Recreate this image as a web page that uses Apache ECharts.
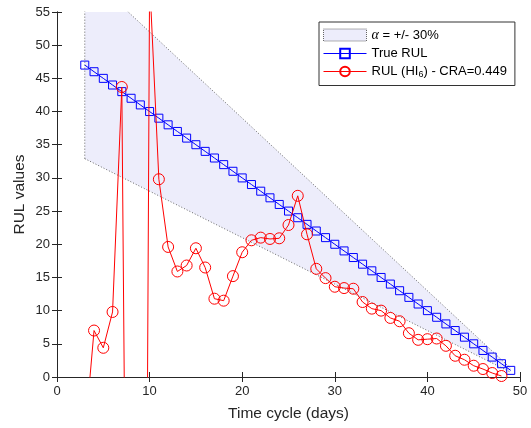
<!DOCTYPE html>
<html><head><meta charset="utf-8">
<script src="https://cdn.jsdelivr.net/npm/echarts@6/dist/echarts.min.js"></script>
<style>html,body{margin:0;padding:0;background:#fff}#c{width:531px;height:428px}</style>
</head><body><div id="c"></div>
<script>
// Time cycles (days) for the true RUL and the +/-30% bounds
const days = [3,4,5,6,7,8,9,10,11,12,13,14,15,16,17,18,19,20,21,22,23,24,25,26,27,28,29,30,31,32,33,34,35,36,37,38,39,40,41,42,43,44,45,46,47,48,49];
const trueRUL = [47,46,45,44,43,42,41,40,39,38,37,36,35,34,33,32,31,30,29,28,27,26,25,24,23,22,21,20,19,18,17,16,15,14,13,12,11,10,9,8,7,6,5,4,3,2,1];
const upperBound = [61.1,59.8,58.5,57.2,55.9,54.6,53.3,52,50.7,49.4,48.1,46.8,45.5,44.2,42.9,41.6,40.3,39,37.7,36.4,35.1,33.8,32.5,31.2,29.9,28.6,27.3,26,24.7,23.4,22.1,20.8,19.5,18.2,16.9,15.6,14.3,13,11.7,10.4,9.1,7.8,6.5,5.2,3.9,2.6,1.3];
const lowerBound = [32.9,32.2,31.5,30.8,30.1,29.4,28.7,28,27.3,26.6,25.9,25.2,24.5,23.8,23.1,22.4,21.7,21,20.3,19.6,18.9,18.2,17.5,16.8,16.1,15.4,14.7,14,13.3,12.6,11.9,11.2,10.5,9.8,9.1,8.4,7.7,7,6.3,5.6,4.9,4.2,3.5,2.8,2.1,1.4,0.7];
// Predicted RUL (HI6)
const predDays = [3,4,5,6,7,8,9,10,11,12,13,14,15,16,17,18,19,20,21,22,23,24,25,26,27,28,29,30,31,32,33,34,35,36,37,38,39,40,41,42,43,44,45,46,47,48];
const predRUL = [-9,7.0,4.4,9.8,43.7,-124,-210,60,29.8,19.6,15.9,16.8,19.4,16.5,11.8,11.5,15.2,18.8,20.6,21.0,20.8,20.9,22.9,27.3,21.5,16.3,14.9,13.6,13.4,13.3,11.3,10.3,10.0,8.9,8.4,6.6,5.6,5.7,5.8,4.7,3.2,2.6,1.7,1.2,0.6,0.15];

const pair = (xs, ys) => xs.map((x, i) => [x, ys[i]]);

const FONT = 'Liberation Sans, Arial, sans-serif';
const AX = '#262626';
const BAND = '#EDEDFB';
const DOT = { color: '#666', width: 1, type: [1, 2] };

const chart = echarts.init(document.getElementById('c'), null, { renderer: 'canvas' });

const baseAxis = {
  axisLine: { show: true, lineStyle: { color: AX, width: 1 } },
  axisTick: { show: true, inside: true, length: 5, lineStyle: { color: AX } },
  splitLine: { show: false },
  axisLabel: { color: AX, fontFamily: FONT, fontSize: 13 }
};

// band polygon: upper edge left->right, then lower edge right->left
const bandPoly = pair(days, upperBound).concat(pair(days, lowerBound).reverse());

chart.setOption({
  animation: false,
  backgroundColor: '#fff',
  grid: { left: 57, right: 11, top: 12, bottom: 51 },
  xAxis: [
    Object.assign({}, baseAxis, {
      type: 'value', min: 0, max: 50, interval: 10, position: 'bottom',
      axisLabel: Object.assign({}, baseAxis.axisLabel, { margin: 8 }),
      name: 'Time cycle (days)', nameLocation: 'middle', nameGap: 29,
      nameTextStyle: { color: AX, fontFamily: FONT, fontSize: 15.5 }
    }),
    Object.assign({}, baseAxis, {
      type: 'value', min: 0, max: 50, interval: 10, position: 'top',
      axisLabel: { show: false }
    })
  ],
  yAxis: [
    Object.assign({}, baseAxis, {
      type: 'value', min: 0, max: 55, interval: 5, position: 'left',
      axisLabel: Object.assign({}, baseAxis.axisLabel, { margin: 7 }),
      name: 'RUL values', nameLocation: 'middle', nameGap: 29, nameMoveOverlap: false,
      nameTextStyle: { color: AX, fontFamily: FONT, fontSize: 15.5 }
    }),
    Object.assign({}, baseAxis, {
      type: 'value', min: 0, max: 55, interval: 5, position: 'right',
      axisLabel: { show: false }
    })
  ],
  legend: {
    orient: 'vertical', left: 319, top: 22,
    padding: [6, 8, 6, 4],
    itemGap: 5, itemWidth: 43, itemHeight: 12,
    borderColor: '#333', borderWidth: 1, borderRadius: 0,
    backgroundColor: '#fff',
    data: [
      { name: 'alpha', icon: 'rect',
        itemStyle: { color: BAND, borderColor: '#666', borderWidth: 1, borderType: 'dotted' } },
      { name: 'true', lineStyle: { width: 1 } },
      { name: 'pred', lineStyle: { width: 1 } }
    ],
    formatter: function (name) {
      if (name === 'alpha') return '{a|α}{t| = +/- 30%}';
      if (name === 'true') return '{t|True RUL}';
      return '{t|RUL (HI}{s|6}{t|) - CRA=0.449}';
    },
    textStyle: {
      color: '#000', fontFamily: FONT, fontSize: 13,
      rich: {
        t: { fontFamily: FONT, fontSize: 13, color: '#000' },
        a: { fontFamily: 'Liberation Serif, DejaVu Serif, serif', fontStyle: 'italic', fontSize: 14, color: '#000' },
        s: { fontFamily: FONT, fontSize: 9, color: '#000', padding: [7, 0, 0, 0] }
      }
    }
  },
  series: [
    { name: 'alpha', type: 'custom', clip: true, silent: true, z: 1,
      itemStyle: { color: BAND },
      data: [[days[0], upperBound[0]]],
      renderItem: function (params, api) {
        const pts = bandPoly.map(p => api.coord(p));
        return { type: 'polygon', shape: { points: pts },
                 style: { fill: BAND, stroke: null } };
      } },
    { name: 'upperEdge', type: 'line', data: pair(days, upperBound), symbol: 'none',
      lineStyle: DOT, silent: true, z: 2 },
    { name: 'lowerEdge', type: 'line', data: pair(days, lowerBound), symbol: 'none',
      lineStyle: DOT, silent: true, z: 2 },
    { name: 'leftEdge', type: 'line', data: [[days[0], lowerBound[0]], [days[0], upperBound[0]]], symbol: 'none',
      lineStyle: DOT, silent: true, z: 2 },
    { name: 'true', type: 'line', data: pair(days, trueRUL),
      symbol: 'rect', symbolSize: 8,
      lineStyle: { color: '#0000ff', width: 1 },
      itemStyle: { color: 'rgba(0,0,0,0)', borderColor: '#0000ff', borderWidth: 1 }, z: 3 },
    { name: 'pred', type: 'line', data: pair(predDays, predRUL),
      symbol: 'circle', symbolSize: 11,
      lineStyle: { color: '#ff0000', width: 1 },
      itemStyle: { color: 'rgba(0,0,0,0)', borderColor: '#ff0000', borderWidth: 1 }, z: 4 }
  ]
});
</script></body></html>
